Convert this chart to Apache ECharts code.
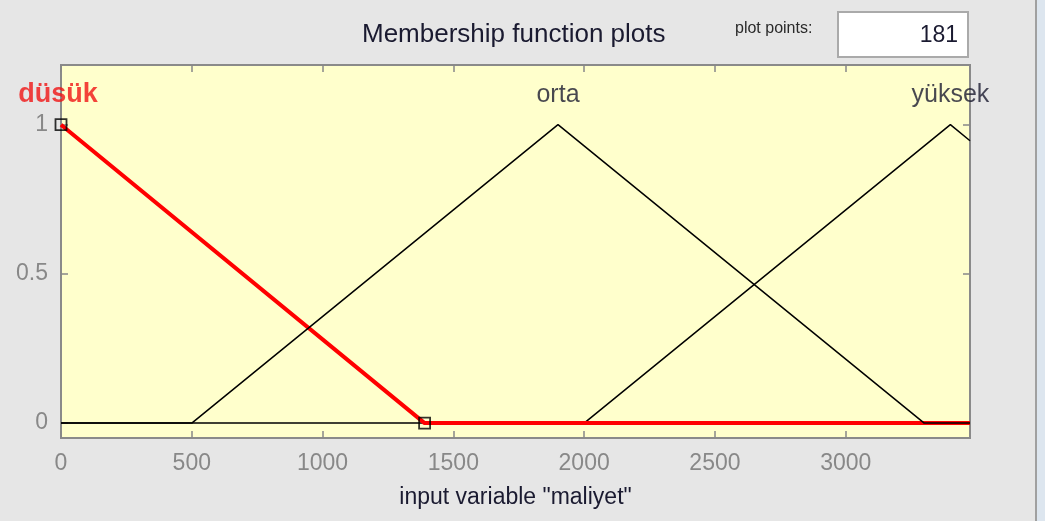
<!DOCTYPE html>
<html>
<head>
<meta charset="utf-8">
<script src="https://cdn.jsdelivr.net/npm/echarts@6/dist/echarts.min.js"></script>
<style>
  html, body { margin: 0; padding: 0; background: #e6e6e6; }
  #chart { width: 1045px; height: 521px; }
</style>
</head>
<body>
<div id="chart"></div>
<script>
// membership functions of input "maliyet" (vertices)
const dusukPts  = [[0, 1], [1390, 0], [3475, 0]];
const ortaPts   = [[0, 0], [500, 0], [1900, 1], [3300, 0], [3475, 0]];
const yuksekPts = [[0, 0], [2000, 0], [3400, 1], [3475, 0.946]];
// selected MF (düsük) parameter handles
const handlePts = [[0, 1], [1390, 0]];
// MF names and where they sit (peak x)
const mfNames = ['düsük', 'orta', 'yüksek'];
const mfPeaks = [0, 1900, 3400];
const xTicks = [0, 500, 1000, 1500, 2000, 2500, 3000];
const yTicks = [0, 0.5, 1];
const plotPoints = '181';

const chart = echarts.init(document.getElementById('chart'));

const tickStyle = { show: true, inside: true, length: 7, lineStyle: { color: '#888', width: 1.5 } };
const noLine = { show: false, onZero: false };

const labelData = mfNames.map((n, i) => ({
  value: [mfPeaks[i], 1.1],
  label: i === 0
    ? { formatter: n, color: '#f01414', fontWeight: 'bold', fontSize: 27, offset: [-3, 0] }
    : { formatter: n, color: '#1a1a30', fontSize: 25 }
}));

const option = {
  animation: false,
  backgroundColor: '#e6e6e6',
  grid: {
    left: 61, right: 75, top: 65, bottom: 83,
    show: true, backgroundColor: '#ffffcc', borderColor: '#8a8a8a', borderWidth: 2
  },
  xAxis: [
    {
      type: 'value', min: 0, max: 3475, position: 'bottom',
      axisLine: noLine,
      axisTick: Object.assign({ customValues: xTicks }, tickStyle),
      axisLabel: {
        customValues: xTicks, color: '#888', fontSize: 23, margin: 14,
        fontFamily: 'Liberation Sans', formatter: v => String(v)
      },
      splitLine: { show: false },
      name: 'input variable "maliyet"', nameLocation: 'middle', nameGap: 48,
      nameTextStyle: { color: '#1a1a30', fontSize: 23, fontFamily: 'Liberation Sans' }
    },
    {
      type: 'value', min: 0, max: 3475, position: 'top',
      axisLine: noLine,
      axisTick: Object.assign({ customValues: xTicks }, tickStyle),
      axisLabel: { show: false },
      splitLine: { show: false }
    }
  ],
  yAxis: [
    {
      type: 'value', min: -0.05, max: 1.2, position: 'left',
      axisLine: noLine,
      axisTick: Object.assign({ customValues: yTicks }, tickStyle),
      axisLabel: {
        customValues: yTicks, color: '#888', fontSize: 23, margin: 13,
        fontFamily: 'Liberation Sans', formatter: v => String(v)
      },
      splitLine: { show: false }
    },
    {
      type: 'value', min: -0.05, max: 1.2, position: 'right',
      axisLine: noLine,
      axisTick: Object.assign({ customValues: yTicks }, tickStyle),
      axisLabel: { show: false },
      splitLine: { show: false }
    }
  ],
  series: [
    {
      name: 'yüksek', type: 'line', data: yuksekPts, symbol: 'none',
      lineStyle: { color: '#000', width: 1.5 }, z: 2
    },
    {
      name: 'düsük', type: 'line', data: dusukPts, symbol: 'none',
      lineStyle: { color: '#ff0000', width: 4 }, z: 3
    },
    {
      name: 'orta', type: 'line', data: ortaPts, symbol: 'none',
      lineStyle: { color: '#000', width: 1.5 }, z: 4
    },
    {
      name: 'handles', type: 'scatter', data: handlePts, symbol: 'rect', symbolSize: 11,
      itemStyle: { color: 'rgba(0,0,0,0)', borderColor: '#000', borderWidth: 1.8 }, z: 5
    },
    {
      name: 'names', type: 'scatter', data: labelData, symbolSize: 0, clip: false,
      label: { show: true, position: 'inside', fontFamily: 'Liberation Sans' }, z: 6
    }
  ],
  graphic: [
    {
      type: 'text', left: 362, top: 22,
      style: { text: 'Membership function plots', fill: '#1a1a30', fontSize: 26, fontFamily: 'Liberation Sans' }
    },
    {
      type: 'text', left: 735, top: 21,
      style: { text: 'plot points:', fill: '#2a2a2a', fontSize: 16, fontFamily: 'Liberation Sans' }
    },
    {
      type: 'rect', shape: { x: 838, y: 12, width: 130, height: 45 },
      style: { fill: '#fff', stroke: '#aaa', lineWidth: 2 }
    },
    {
      type: 'text', right: 1045 - 958, top: 24,
      style: { text: plotPoints, fill: '#1a1a30', fontSize: 23, fontFamily: 'Liberation Sans' }
    },
    {
      type: 'rect', shape: { x: 1035, y: 0, width: 2, height: 521 },
      style: { fill: '#a0a0a0' }
    },
    {
      type: 'rect', shape: { x: 1037, y: 0, width: 8, height: 521 },
      style: { fill: '#dde6ef' }
    }
  ]
};

chart.setOption(option);
</script>
</body>
</html>
